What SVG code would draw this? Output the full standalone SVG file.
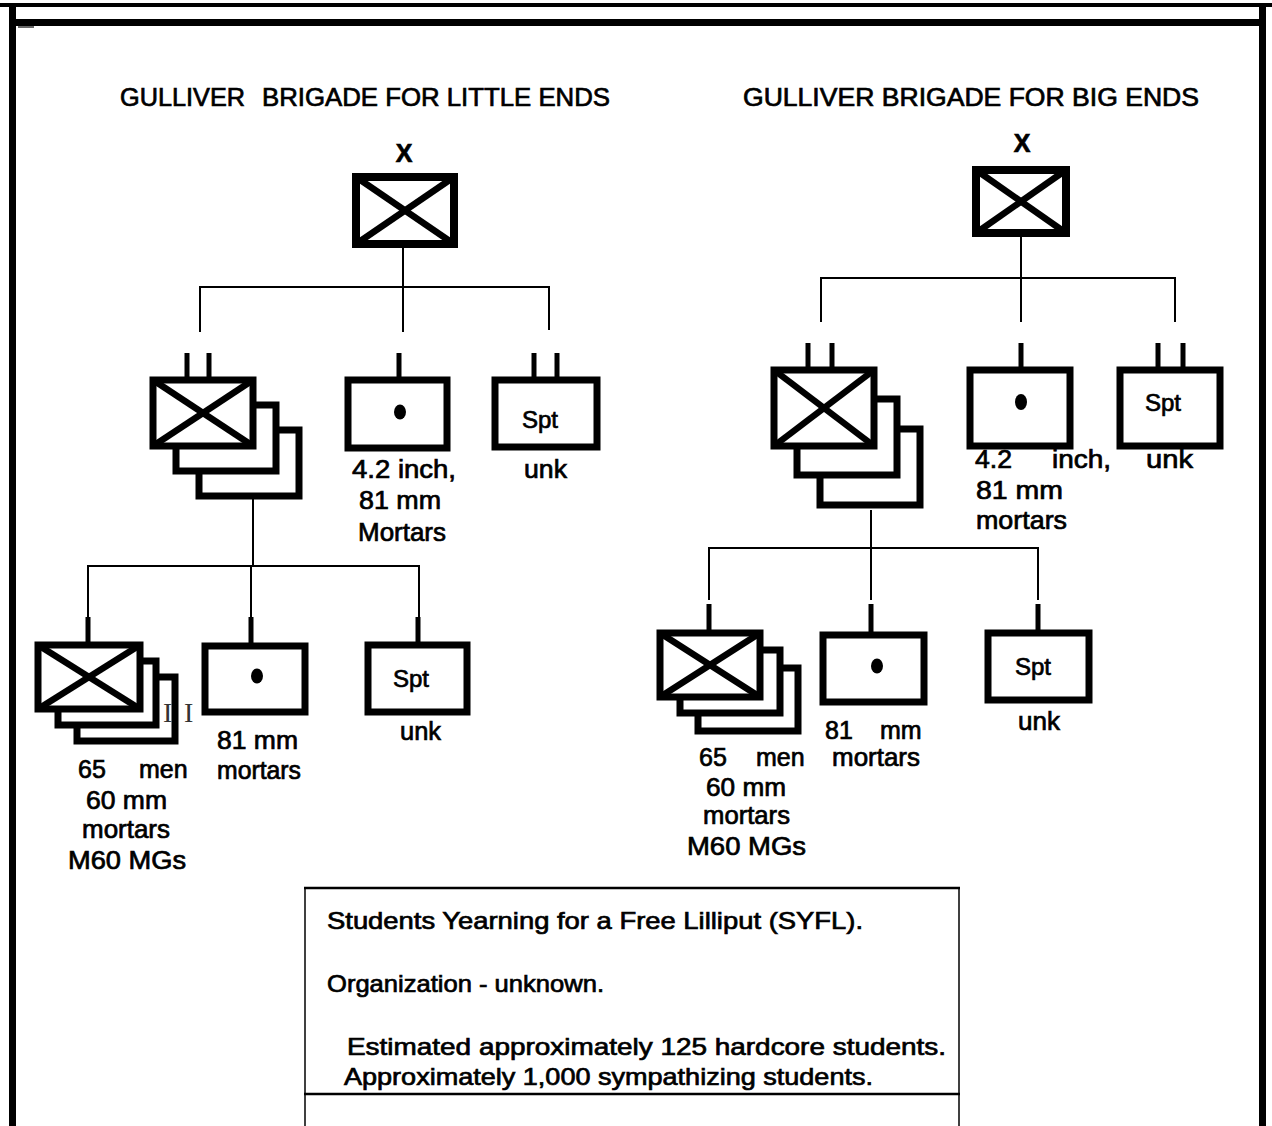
<svg xmlns="http://www.w3.org/2000/svg" width="1272" height="1126" viewBox="0 0 1272 1126">
<style>
.t{font-family:"Liberation Sans",Arial,Helvetica,sans-serif;font-size:25px;fill:#000;stroke:#000;stroke-width:0.7}
.ts{font-size:24px}
.bx{fill:#fff;stroke:#000;stroke-width:7}
.bb{fill:#fff;stroke:#000;stroke-width:8}
.dg{stroke:#000;stroke-width:6.5}
.st{stroke:#000;stroke-width:5}
.cn line{stroke:#000;stroke-width:2}
.fr{fill:#000}
</style>
<rect width="1272" height="1126" fill="#fff"/>
<g id="frame">
<rect class="fr" x="0" y="3" width="1272" height="4"/>
<rect class="fr" x="9" y="19" width="1256" height="7"/>
<rect class="fr" x="9" y="4" width="7" height="1122"/>
<rect class="fr" x="1259" y="4" width="7" height="1122"/>
<rect x="18" y="26" width="16" height="2" fill="#666"/>
</g>
<g id="titles">
<text class="t" x="120" y="106" textLength="125" lengthAdjust="spacingAndGlyphs">GULLIVER</text>
<text class="t" x="262" y="106" textLength="348" lengthAdjust="spacingAndGlyphs">BRIGADE FOR LITTLE ENDS</text>
<text class="t" x="743" y="106" textLength="456" lengthAdjust="spacingAndGlyphs">GULLIVER BRIGADE FOR BIG ENDS</text>
</g>
<g class="cn" id="connectors">
<line x1="403" y1="248" x2="403" y2="332"/>
<line x1="199" y1="287" x2="550" y2="287"/>
<line x1="200" y1="287" x2="200" y2="332"/>
<line x1="549" y1="287" x2="549" y2="330"/>
<line x1="253" y1="498" x2="253" y2="566"/>
<line x1="87" y1="566" x2="420" y2="566"/>
<line x1="88" y1="566" x2="88" y2="618"/>
<line x1="251" y1="566" x2="251" y2="618"/>
<line x1="419" y1="566" x2="419" y2="618"/>
<line x1="1021" y1="237" x2="1021" y2="322"/>
<line x1="820" y1="278" x2="1176" y2="278"/>
<line x1="821" y1="278" x2="821" y2="322"/>
<line x1="1175" y1="278" x2="1175" y2="322"/>
<line x1="871" y1="510" x2="871" y2="548"/>
<line x1="708" y1="548" x2="1039" y2="548"/>
<line x1="709" y1="548" x2="709" y2="600"/>
<line x1="871" y1="548" x2="871" y2="600"/>
<line x1="1038" y1="548" x2="1038" y2="600"/>
</g>
<g id="brigade-little">
<text class="t" x="404" y="162" text-anchor="middle" font-weight="bold" font-size="24">X</text>
<rect class="bb" x="356" y="177" width="98" height="67"/>
<line class="dg" x1="356" y1="177" x2="454" y2="244"/>
<line class="dg" x1="454" y1="177" x2="356" y2="244"/>
</g>
<g id="inf-bn-little">
<rect class="bx" x="199" y="430" width="100" height="66"/>
<rect class="bx" x="176" y="405" width="100" height="66"/>
<rect class="bx" x="153" y="380" width="100" height="66"/>
<line class="dg" x1="153" y1="380" x2="253" y2="446"/>
<line class="dg" x1="253" y1="380" x2="153" y2="446"/>
<line class="st" x1="187" y1="353" x2="187" y2="378"/>
<line class="st" x1="209" y1="353" x2="209" y2="378"/>
</g>
<g id="mortar-little">
<rect class="bx" x="348" y="380" width="99" height="68"/>
<line class="st" x1="399" y1="353" x2="399" y2="378"/>
<ellipse cx="400" cy="412" rx="6" ry="7.5"/>
<text class="t" x="352" y="478" textLength="104" lengthAdjust="spacingAndGlyphs">4.2 inch,</text>
<text class="t" x="359" y="509" textLength="82" lengthAdjust="spacingAndGlyphs">81 mm</text>
<text class="t" x="358" y="541" textLength="88" lengthAdjust="spacingAndGlyphs">Mortars</text>
</g>
<g id="spt-little">
<rect class="bx" x="495" y="380" width="102" height="67"/>
<line class="st" x1="534" y1="353" x2="534" y2="378"/>
<line class="st" x1="557" y1="353" x2="557" y2="378"/>
<text class="t ts" x="540" y="428" text-anchor="middle">Spt</text>
<text class="t" x="524" y="478" textLength="43" lengthAdjust="spacingAndGlyphs">unk</text>
</g>
<g id="inf-co-little">
<rect class="bx" x="77" y="677" width="98" height="64"/>
<rect class="bx" x="58" y="661" width="98" height="64"/>
<rect class="bx" x="38" y="645" width="102" height="64"/>
<line class="dg" x1="38" y1="645" x2="140" y2="709"/>
<line class="dg" x1="140" y1="645" x2="38" y2="709"/>
<line class="st" x1="88" y1="617" x2="88" y2="644"/>
<text x="163" y="722" font-family="Liberation Serif,serif" font-size="28" fill="#333">I</text>
<text x="184" y="722" font-family="Liberation Serif,serif" font-size="28" fill="#333">I</text>
<text class="t" x="78" y="778">65</text>
<text class="t" x="139" y="778">men</text>
<text class="t" x="86" y="809" textLength="81" lengthAdjust="spacingAndGlyphs">60 mm</text>
<text class="t" x="82" y="838" textLength="88" lengthAdjust="spacingAndGlyphs">mortars</text>
<text class="t" x="68" y="869" textLength="118" lengthAdjust="spacingAndGlyphs">M60 MGs</text>
</g>
<g id="mortar-co-little">
<rect class="bx" x="205" y="646" width="100" height="66"/>
<line class="st" x1="251" y1="617" x2="251" y2="644"/>
<ellipse cx="257" cy="676" rx="6" ry="7.5"/>
<text class="t" x="217" y="749" textLength="81" lengthAdjust="spacingAndGlyphs">81 mm</text>
<text class="t" x="217" y="779" textLength="84" lengthAdjust="spacingAndGlyphs">mortars</text>
</g>
<g id="spt-co-little">
<rect class="bx" x="368" y="645" width="99" height="67"/>
<line class="st" x1="418" y1="617" x2="418" y2="644"/>
<text class="t ts" x="411" y="687" text-anchor="middle">Spt</text>
<text class="t" x="400" y="740" textLength="41" lengthAdjust="spacingAndGlyphs">unk</text>
</g>
<g id="brigade-big">
<text class="t" x="1022" y="152" text-anchor="middle" font-weight="bold" font-size="24">X</text>
<rect class="bb" x="976" y="170" width="90" height="63"/>
<line class="dg" x1="976" y1="170" x2="1066" y2="233"/>
<line class="dg" x1="1066" y1="170" x2="976" y2="233"/>
</g>
<g id="inf-bn-big">
<rect class="bx" x="820" y="429" width="100" height="76"/>
<rect class="bx" x="797" y="399" width="100" height="76"/>
<rect class="bx" x="774" y="370" width="100" height="76"/>
<line class="dg" x1="774" y1="370" x2="874" y2="446"/>
<line class="dg" x1="874" y1="370" x2="774" y2="446"/>
<line class="st" x1="808" y1="343" x2="808" y2="368"/>
<line class="st" x1="832" y1="343" x2="832" y2="368"/>
</g>
<g id="mortar-big">
<rect class="bx" x="970" y="370" width="100" height="76"/>
<line class="st" x1="1021" y1="343" x2="1021" y2="368"/>
<ellipse cx="1021" cy="402" rx="6" ry="8"/>
<text class="t" x="975" y="468" textLength="37" lengthAdjust="spacingAndGlyphs">4.2</text>
<text class="t" x="1052" y="468" textLength="59" lengthAdjust="spacingAndGlyphs">inch,</text>
<text class="t" x="976" y="499" textLength="87" lengthAdjust="spacingAndGlyphs">81 mm</text>
<text class="t" x="976" y="529" textLength="91" lengthAdjust="spacingAndGlyphs">mortars</text>
</g>
<g id="spt-big">
<rect class="bx" x="1120" y="370" width="100" height="76"/>
<line class="st" x1="1158" y1="343" x2="1158" y2="368"/>
<line class="st" x1="1183" y1="343" x2="1183" y2="368"/>
<text class="t ts" x="1163" y="411" text-anchor="middle">Spt</text>
<text class="t" x="1146" y="468" textLength="47" lengthAdjust="spacingAndGlyphs">unk</text>
</g>
<g id="inf-co-big">
<rect class="bx" x="698" y="668" width="100" height="63"/>
<rect class="bx" x="680" y="650" width="100" height="63"/>
<rect class="bx" x="660" y="633" width="100" height="64"/>
<line class="dg" x1="660" y1="633" x2="760" y2="697"/>
<line class="dg" x1="760" y1="633" x2="660" y2="697"/>
<line class="st" x1="709" y1="604" x2="709" y2="632"/>
<text class="t" x="699" y="766">65</text>
<text class="t" x="756" y="766">men</text>
<text class="t" x="706" y="796" textLength="80" lengthAdjust="spacingAndGlyphs">60 mm</text>
<text class="t" x="703" y="824" textLength="87" lengthAdjust="spacingAndGlyphs">mortars</text>
<text class="t" x="687" y="855" textLength="119" lengthAdjust="spacingAndGlyphs">M60 MGs</text>
</g>
<g id="mortar-co-big">
<rect class="bx" x="823" y="635" width="101" height="67"/>
<line class="st" x1="871" y1="604" x2="871" y2="634"/>
<ellipse cx="877" cy="666" rx="6" ry="7.5"/>
<text class="t" x="825" y="739">81</text>
<text class="t" x="880" y="739">mm</text>
<text class="t" x="832" y="766" textLength="88" lengthAdjust="spacingAndGlyphs">mortars</text>
</g>
<g id="spt-co-big">
<rect class="bx" x="988" y="633" width="101" height="67"/>
<line class="st" x1="1038" y1="604" x2="1038" y2="632"/>
<text class="t ts" x="1033" y="675" text-anchor="middle">Spt</text>
<text class="t" x="1018" y="730" textLength="42" lengthAdjust="spacingAndGlyphs">unk</text>
</g>
<g id="syfl-box">
<line x1="304" y1="888" x2="960" y2="888" stroke="#000" stroke-width="2.5"/>
<line x1="305" y1="888" x2="305" y2="1126" stroke="#000" stroke-width="1.5"/>
<line x1="959" y1="888" x2="959" y2="1126" stroke="#000" stroke-width="1.5"/>
<line x1="304" y1="1094" x2="960" y2="1094" stroke="#000" stroke-width="2.5"/>
<text class="t ts" x="327" y="929" textLength="536" lengthAdjust="spacingAndGlyphs">Students Yearning for a Free Lilliput (SYFL).</text>
<text class="t ts" x="327" y="992" textLength="277" lengthAdjust="spacingAndGlyphs">Organization - unknown.</text>
<text class="t ts" x="347" y="1055" textLength="599" lengthAdjust="spacingAndGlyphs">Estimated approximately 125 hardcore students.</text>
<text class="t ts" x="344" y="1085" textLength="529" lengthAdjust="spacingAndGlyphs">Approximately 1,000 sympathizing students.</text>
</g>
</svg>
